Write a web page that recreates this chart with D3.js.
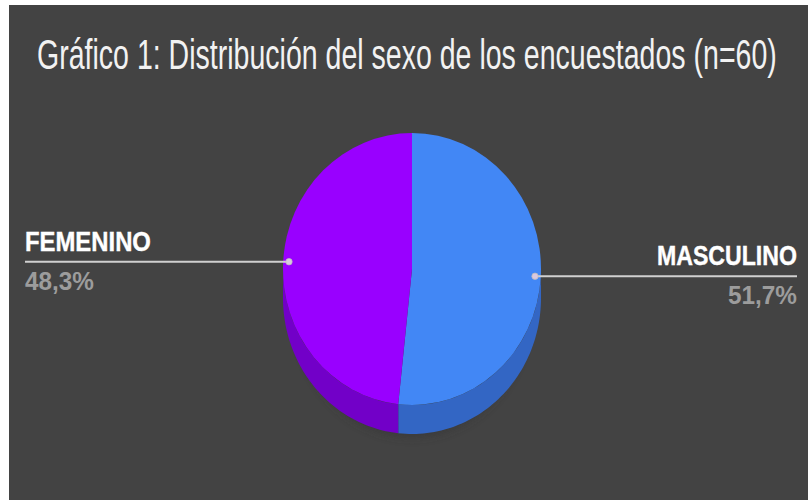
<!DOCTYPE html>
<html>
<head>
<meta charset="utf-8">
<script src="https://cdn.jsdelivr.net/npm/d3@7/dist/d3.min.js"></script>
<style>
  html, body { margin: 0; padding: 0; background: #ffffff; }
  svg { display: block; }
</style>
</head>
<body>
<svg id="chart" width="808" height="500"></svg>
<script>
// Survey respondents by sex (n = 60)
const categories = ["MASCULINO", "FEMENINO"];
const shares = [51.7, 48.3];
const shareLabels = ["51,7%", "48,3%"];
const titleText = "Gráfico 1: Distribución del sexo de los encuestados (n=60)";

const topColors = ["#4287f5", "#9900ff"];
const sideColors = ["#3366c4", "#7200c8"];

const W = 808, H = 500;
const svg = d3.select("#chart");

// place a text so that it spans exactly `width` pixels, squeezing it horizontally
function fitText(sel, x, y, width, anchor) {
  sel.attr("x", 0).attr("y", 0).attr("text-anchor", "start");
  const natural = sel.node().getComputedTextLength();
  const k = width / natural;
  const left = anchor === "end" ? x - width : x;
  sel.attr("transform", `translate(${left},${y}) scale(${k},1)`);
}

// dark panel
svg.append("rect")
  .attr("x", 9).attr("y", 5)
  .attr("width", W - 9).attr("height", H - 5)
  .attr("fill", "#434343");

// title
const title = svg.append("text")
  .attr("font-family", "'Liberation Sans','Arial',sans-serif")
  .attr("font-size", 42.5)
  .attr("fill", "#f2f2f2")
  .text(titleText);
fitText(title, 37, 68.5, 740, "start");

// tilted pie geometry
const cx = 412, cy = 269, rx = 129, ry = 136, depth = 29;
const pieData = d3.pie().sort(null).value(d => d)(shares);

const rimPoint = (a, dy = 0) => [cx + rx * Math.sin(a), cy - ry * Math.cos(a) + dy];

// soft shadow under the pie
const defs = svg.append("defs");
defs.append("filter").attr("id", "soft")
  .attr("x", "-50%").attr("y", "-50%").attr("width", "200%").attr("height", "200%")
  .append("feGaussianBlur").attr("stdDeviation", 4);
svg.append("ellipse")
  .attr("cx", cx).attr("cy", cy + depth + 10)
  .attr("rx", rx * 0.9).attr("ry", ry * 0.95)
  .attr("fill", "#333")
  .attr("opacity", 0.5)
  .attr("filter", "url(#soft)");

// side walls: the part of each slice's rim that faces the viewer (π/2 .. 3π/2)
const wallLine = d3.line();
pieData.forEach((s, i) => {
  const a0 = Math.max(s.startAngle, Math.PI / 2);
  const a1 = Math.min(s.endAngle, 3 * Math.PI / 2);
  if (a1 <= a0) return;
  const steps = d3.range(0, 61).map(k => a0 + (a1 - a0) * k / 60);
  const upper = steps.map(a => rimPoint(a));
  const lower = steps.slice().reverse().map(a => rimPoint(a, depth));
  svg.append("path")
    .attr("d", wallLine(upper.concat(lower)) + "Z")
    .attr("fill", sideColors[i]);
});

// top face: arcs of radius 100 stretched into the ellipse
const arcGen = d3.arc().innerRadius(0).outerRadius(100);
const faceGroup = svg.append("g")
  .attr("transform", `translate(${cx},${cy}) scale(${rx / 100},${ry / 100})`);
faceGroup.selectAll("path")
  .data(pieData)
  .join("path")
  .attr("d", arcGen)
  .attr("fill", (d, i) => topColors[i]);

// leader lines and labels
const labelFont = "'Liberation Sans','Arial',sans-serif";
const layout = [
  { side: "right", lineEnd: 797, nameW: 140 },
  { side: "left", lineEnd: 25, nameW: 126 }
];
pieData.forEach((s, i) => {
  const mid = (s.startAngle + s.endAngle) / 2;
  const dx = cx + rx * 0.955 * Math.sin(mid);
  const dy = cy - ry * Math.cos(mid);
  const L = layout[i];
  svg.append("line")
    .attr("x1", dx).attr("y1", dy)
    .attr("x2", L.lineEnd).attr("y2", dy)
    .attr("stroke", "#d0d0d0").attr("stroke-width", 2);
  svg.append("circle")
    .attr("cx", dx).attr("cy", dy).attr("r", 3.2)
    .attr("fill", "#d9c8e0").attr("stroke", "#bbb").attr("stroke-width", 0.8);

  const anchor = L.side === "right" ? "end" : "start";
  const name = svg.append("text")
    .attr("font-family", labelFont)
    .attr("font-weight", "bold")
    .attr("font-size", 27)
    .attr("fill", "#ffffff")
    .attr("stroke", "#ffffff").attr("stroke-width", 0.4)
    .text(categories[i]);
  fitText(name, L.lineEnd, dy - 11, L.nameW, anchor);

  const pct = svg.append("text")
    .attr("font-family", labelFont)
    .attr("font-weight", "bold")
    .attr("font-size", 25.5)
    .attr("fill", "#9c9c9c")
    .text(shareLabels[i]);
  fitText(pct, L.lineEnd, dy + 28, 69, anchor);
});
</script>
</body>
</html>
